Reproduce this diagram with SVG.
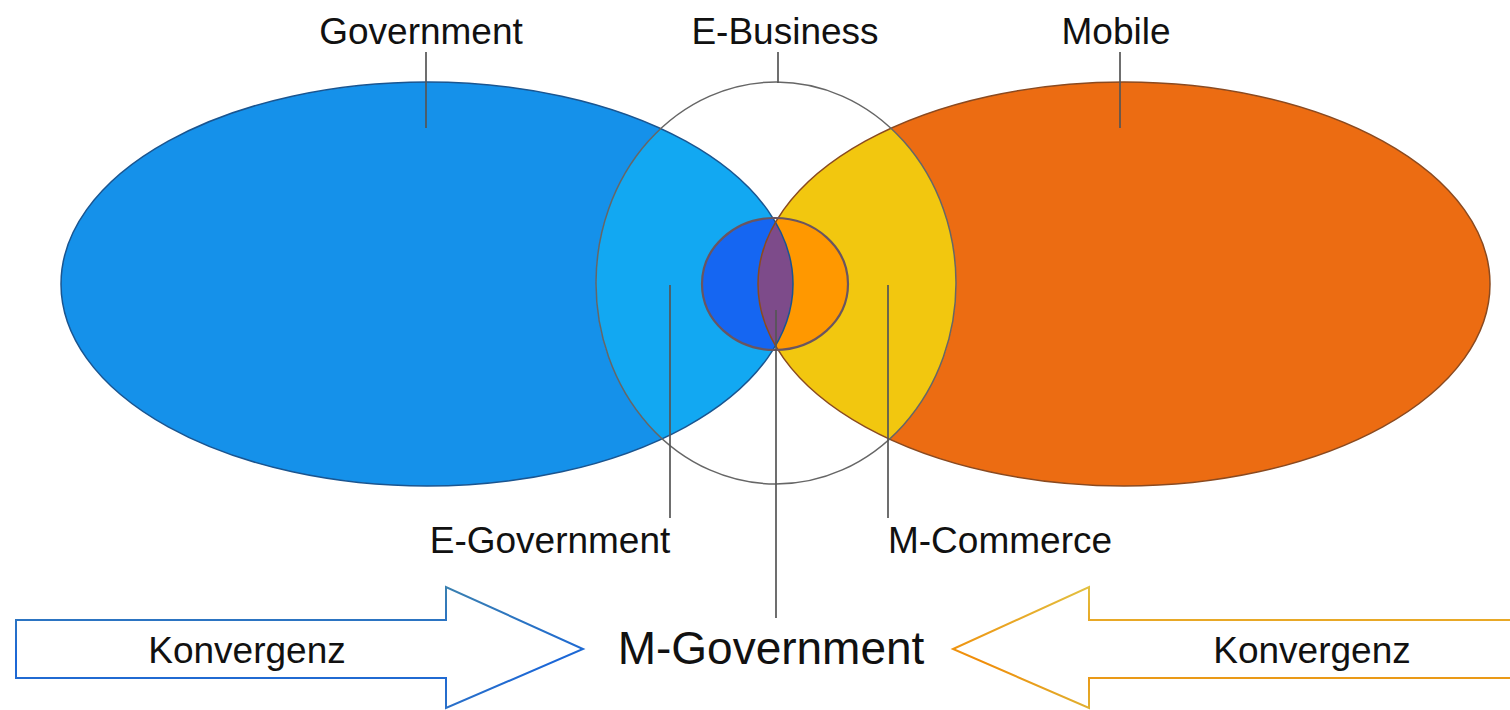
<svg xmlns="http://www.w3.org/2000/svg" width="1510" height="710" viewBox="0 0 1510 710">
<style>
text{font-family:"Liberation Sans",Arial,sans-serif;font-size:37px;fill:#111;text-anchor:middle}
.lead{stroke:#555;stroke-width:1.7;fill:none}
.edge{fill:none;stroke-width:1.5}
</style>
<defs>
<clipPath id="cBig"><ellipse cx="776" cy="283" rx="180" ry="201"/></clipPath>
<clipPath id="cSmall"><ellipse cx="775" cy="284" rx="73" ry="66"/></clipPath>
<clipPath id="cBlue"><ellipse cx="427" cy="284" rx="366" ry="202"/></clipPath>
<linearGradient id="gBlue" gradientUnits="userSpaceOnUse" x1="0" y1="587" x2="0" y2="708"><stop offset="0" stop-color="#3a80b0"/><stop offset="0.6" stop-color="#1a66d8"/><stop offset="1" stop-color="#2a70c8"/></linearGradient>
<linearGradient id="gOr" gradientUnits="userSpaceOnUse" x1="0" y1="587" x2="0" y2="708"><stop offset="0" stop-color="#e2c040"/><stop offset="0.6" stop-color="#f08c08"/><stop offset="1" stop-color="#e0b030"/></linearGradient>
</defs>
<rect width="1510" height="710" fill="#fff"/>
<g id="government">
<ellipse cx="427" cy="284" rx="366" ry="202" fill="#1591ea"/>
<text x="421" y="44">Government</text>
</g>
<g id="mobile">
<ellipse cx="1124" cy="284" rx="366" ry="202" fill="#ec6c12"/>
<text x="1116" y="44">Mobile</text>
</g>
<g id="e-business">
<g clip-path="url(#cBig)">
<rect x="590" y="80" width="370" height="410" fill="#fff"/>
<ellipse cx="427" cy="284" rx="366" ry="202" fill="#12a8f2"/>
<ellipse cx="1124" cy="284" rx="366" ry="202" fill="#f2c70f"/>
</g>
<text x="785" y="44">E-Business</text>
</g>
<g id="m-government-core">
<g clip-path="url(#cSmall)">
<rect x="700" y="215" width="150" height="140" fill="#fff"/>
<ellipse cx="427" cy="284" rx="366" ry="202" fill="#1566f2"/>
<ellipse cx="1124" cy="284" rx="366" ry="202" fill="#ff9800"/>
<ellipse cx="1124" cy="284" rx="366" ry="202" fill="#7d4b8a" clip-path="url(#cBlue)"/>
</g>
</g>
<g id="outlines">
<ellipse class="edge" cx="427" cy="284" rx="366" ry="202" stroke="#1a5590"/>
<ellipse class="edge" cx="1124" cy="284" rx="366" ry="202" stroke="#8a4a20"/>
<ellipse class="edge" cx="776" cy="283" rx="180" ry="201" stroke="#666"/>
<ellipse cx="775" cy="284" rx="73" ry="66" fill="none" stroke="#6a5560" stroke-width="2.2"/>
</g>
<g id="connectors">
<line class="lead" x1="426" y1="52" x2="426" y2="128"/>
<line class="lead" x1="778" y1="52" x2="778" y2="83"/>
<line class="lead" x1="1120" y1="52" x2="1120" y2="128"/>
<line class="lead" x1="670" y1="285" x2="670" y2="518"/>
<line class="lead" x1="776" y1="310" x2="776" y2="618"/>
<line class="lead" x1="888" y1="285" x2="888" y2="518"/>
</g>
<g id="e-government"><text x="550" y="553">E-Government</text></g>
<g id="m-commerce"><text x="1000" y="553">M-Commerce</text></g>
<g id="m-government"><text x="771" y="664" style="font-size:46px">M-Government</text></g>
<g id="arrow-left">
<polygon points="16,620 446,620 446,587 583,649 446,708 446,678 16,678" fill="#fff" stroke="url(#gBlue)" stroke-width="2"/>
<text x="247" y="663">Konvergenz</text>
</g>
<g id="arrow-right">
<polygon points="1515,620 1089,620 1089,587 953,649 1089,708 1089,678 1515,678" fill="#fff" stroke="url(#gOr)" stroke-width="2"/>
<text x="1312" y="663">Konvergenz</text>
</g>
</svg>
